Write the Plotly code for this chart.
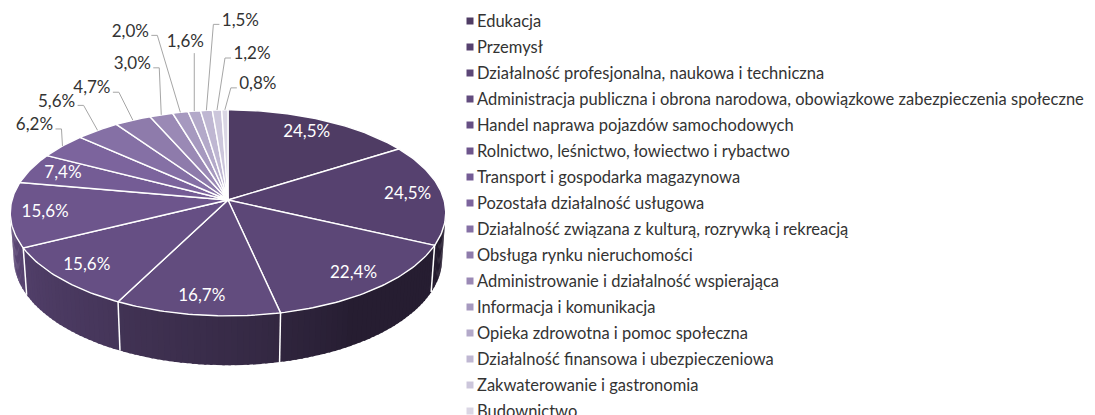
import numpy as np
import plotly.graph_objects as go

# ---- data -------------------------------------------------------------
categories = [
    "Edukacja",
    "Przemysł",
    "Działalność profesjonalna, naukowa i techniczna",
    "Administracja publiczna i obrona narodowa, obowiązkowe zabezpieczenia społeczne",
    "Handel naprawa pojazdów samochodowych",
    "Rolnictwo, leśnictwo, łowiectwo i rybactwo",
    "Transport i gospodarka magazynowa",
    "Pozostała działalność usługowa",
    "Działalność związana z kulturą, rozrywką i rekreacją",
    "Obsługa rynku nieruchomości",
    "Administrowanie i działalność wspierająca",
    "Informacja i komunikacja",
    "Opieka zdrowotna i pomoc społeczna",
    "Działalność finansowa i ubezpieczeniowa",
    "Zakwaterowanie i gastronomia",
    "Budownictwo",
]
shares = [24.5, 24.5, 22.4, 16.7, 15.6, 15.6, 7.4, 6.2, 5.6, 4.7, 3.0, 2.0, 1.6, 1.5, 1.2, 0.8]

# ---- styling ----------------------------------------------------------
slice_colors = [
    "#4F3C64", "#56416F", "#5C4777", "#624C7E", "#664F84", "#6D558C",
    "#745C95", "#7C649D", "#8570A5", "#8E7BAB", "#9A89B5", "#A699BF",
    "#B3A9C9", "#BFB7D2", "#CCC6DB", "#DAD6E4",
]
FONT = "Lato"
LABEL_SIZE = 17
LEGEND_SIZE = 16.5
TEXT_COLOR = "#333333"
LEADER_COLOR = "#a6a6a6"

# callout placement for small slices: label centre relative to the rim point (px)
callout_offsets = {
    7: (-28, -20), 8: (-41, -28), 9: (-41, -31), 10: (-29, -50),
    11: (-50, -80), 12: (-9, -68), 13: (34, -89), 14: (35, -55), 15: (33, -25),
}
INSIDE_MIN = 7.0

# ---- perspective model of the pie ------------------------------------
CX, CY = 228.0, 200.0          # screen position of the pie centre
FOCAL, DIST = 1525.0, 7.06     # camera focal length and distance (pie radius = 1)
TILT = np.radians(28.0)
S, C = np.sin(TILT), np.cos(TILT)
THICK = 0.24                   # height of the pie wall


def project(t_deg, r=1.0, z=0.0):
    """Angle measured clockwise from 12 o'clock -> screen (x, y) in px."""
    t = np.radians(np.asarray(t_deg, dtype=float))
    X = r * np.sin(t)
    Y = r * np.cos(t)
    depth = DIST + Y * C - z * S
    return CX + FOCAL * X / depth, CY - FOCAL * (Y * S + z * C) / depth


def rgb(hexcol):
    h = hexcol.lstrip("#")
    return np.array([int(h[i:i + 2], 16) for i in (0, 2, 4)], dtype=float)


def shade(hexcol, k):
    r, g, b = np.clip(rgb(hexcol) * k, 0, 255).astype(int)
    return f"rgb({r},{g},{b})"


def wall_light(t):
    # light comes from the left: the wall darkens towards the right
    u = np.clip((t - 150.0) / 110.0, 0, 1)
    return 0.42 + 0.43 * u ** 0.8


total = sum(shares)
edges = np.concatenate([[0.0], np.cumsum(shares) / total * 360.0])
mids = (edges[:-1] + edges[1:]) / 2
labels = [f"{v:.1f}%".replace(".", ",") for v in shares]

fig = go.Figure()

# ---- outer wall (only the part facing the camera) --------------------
vis_lo = np.degrees(np.arccos(-1.0 / (DIST * C)))
vis_hi = 360.0 - vis_lo
for i, (a, b) in enumerate(zip(edges[:-1], edges[1:])):
    lo, hi = max(a, vis_lo), min(b, vis_hi)
    if lo >= hi:
        continue
    n = int(np.ceil((hi - lo) / 1.5))
    cuts = np.linspace(lo, hi, n + 1)
    for u, v in zip(cuts[:-1], cuts[1:]):
        v2 = min(v + 0.6, hi)
        ts = np.linspace(u, v2, 6)
        xt, yt = project(ts, 1.0, 0.0)
        xb, yb = project(ts[::-1], 1.0, -THICK)
        fig.add_trace(go.Scatter(
            x=np.concatenate([xt, xb, xt[:1]]), y=np.concatenate([yt, yb, yt[:1]]),
            mode="lines", fill="toself", line=dict(width=0),
            fillcolor=shade(slice_colors[i], wall_light((u + v) / 2)),
            hoverinfo="skip", showlegend=False,
        ))

# white seams on the wall at slice boundaries
for b in edges:
    if vis_lo < b < vis_hi:
        x0, y0 = project(b, 1.0, 0.0)
        x1, y1 = project(b, 1.0, -THICK)
        fig.add_trace(go.Scatter(x=[x0, x1], y=[y0, y1], mode="lines",
                                 line=dict(color="white", width=1.5),
                                 hoverinfo="skip", showlegend=False))

# ---- top face --------------------------------------------------------
for i, (a, b) in enumerate(zip(edges[:-1], edges[1:])):
    ts = np.linspace(a, b, max(4, int((b - a) / 1.0) + 2))
    xa, ya = project(ts)
    fig.add_trace(go.Scatter(
        x=np.concatenate([[CX], xa, [CX]]), y=np.concatenate([[CY], ya, [CY]]),
        mode="lines", fill="toself", fillcolor=slice_colors[i],
        line=dict(color="white", width=1.4),
        name=categories[i], text=labels[i], hoverinfo="name+text", showlegend=False,
    ))

# ---- value labels ----------------------------------------------------
in_x, in_y, in_t = [], [], []
for i, m in enumerate(mids):
    if shares[i] < INSIDE_MIN:
        continue
    rx, ry = project(m)
    in_x.append(CX + 0.84 * (rx - CX))
    in_y.append(CY + 0.84 * (ry - CY))
    in_t.append(labels[i])
fig.add_trace(go.Scatter(x=in_x, y=in_y, mode="text", text=in_t,
                         textposition="middle center",
                         textfont=dict(family=FONT, size=LABEL_SIZE, color="white"),
                         hoverinfo="skip", showlegend=False))

half_w = 19.0
out_x, out_y, out_t = [], [], []
for i, m in enumerate(mids):
    if shares[i] >= INSIDE_MIN:
        continue
    px, py = project(m)
    dx, dy = callout_offsets[i]
    lx, ly = px + dx, py + dy
    if dx < -15:
        ax = lx + half_w + 2
        xs, ys = [ax, ax + 6, px], [ly + 3, ly + 3, py]
    elif dx > 15:
        ax = lx - half_w - 2
        xs, ys = [ax, ax - 6, px], [ly + 3, ly + 3, py]
    else:
        xs, ys = [px, px], [ly + 10, py]
    fig.add_trace(go.Scatter(x=xs, y=ys, mode="lines",
                             line=dict(color=LEADER_COLOR, width=1),
                             hoverinfo="skip", showlegend=False))
    out_x.append(lx)
    out_y.append(ly)
    out_t.append(labels[i])
fig.add_trace(go.Scatter(x=out_x, y=out_y, mode="text", text=out_t,
                         textposition="middle center",
                         textfont=dict(family=FONT, size=LABEL_SIZE, color=TEXT_COLOR),
                         hoverinfo="skip", showlegend=False))

# ---- legend ----------------------------------------------------------
LEG_X, LEG_Y0, LEG_STEP = 470.0, 21.0, 26.0
leg_y = [LEG_Y0 + k * LEG_STEP for k in range(len(categories))]
fig.add_trace(go.Scatter(
    x=[LEG_X] * len(categories), y=leg_y, mode="markers",
    marker=dict(symbol="square", size=7, color=slice_colors, line=dict(width=0)),
    hoverinfo="skip", showlegend=False,
))
for name, y in zip(categories, leg_y):
    fig.add_annotation(x=LEG_X + 5, y=y, text=name, showarrow=False,
                       xanchor="left", yanchor="middle",
                       font=dict(family=FONT, size=LEGEND_SIZE, color=TEXT_COLOR))

fig.update_layout(
    width=1095, height=415,
    margin=dict(l=0, r=0, t=0, b=0),
    paper_bgcolor="white", plot_bgcolor="white",
    showlegend=False,
    xaxis=dict(range=[0, 1095], visible=False, fixedrange=True),
    yaxis=dict(range=[415, 0], visible=False, fixedrange=True),
)

fig.write_html("out.html")
